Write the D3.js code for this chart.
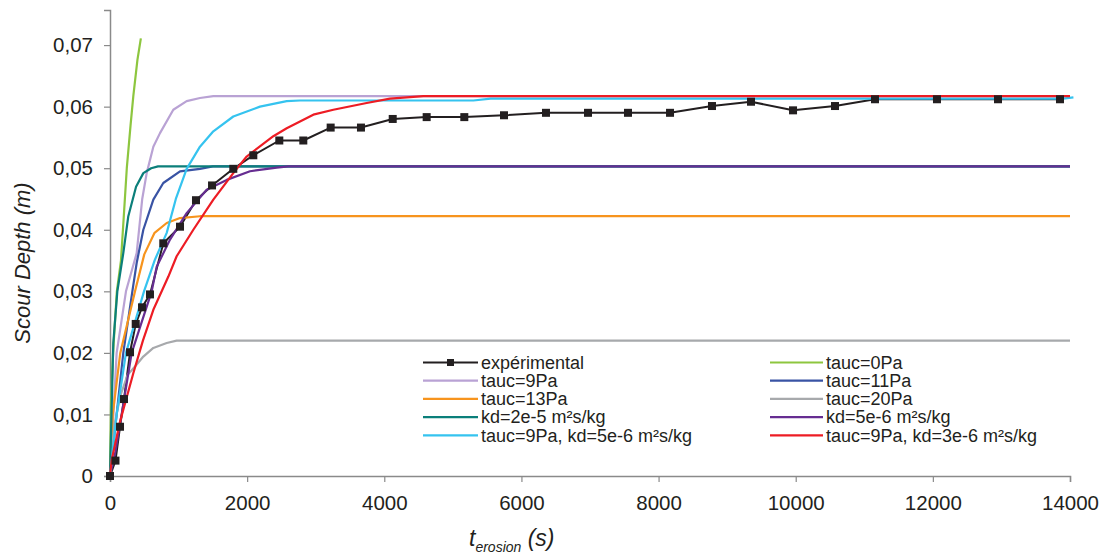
<!DOCTYPE html>
<html>
<head>
<meta charset="utf-8">
<script src="https://cdn.jsdelivr.net/npm/d3@7"></script>
<style>
  body { margin: 0; background: #fff; }
  svg { display: block; font-family: "Liberation Sans", Arial, sans-serif; }
</style>
</head>
<body>
<svg id="chart"></svg>
<script>
const experimental = [[0,0],[80,0.0025],[146,0.008],[204,0.0125],[292,0.0201],[375,0.0247],[467,0.0274],[583,0.0295],
  [777,0.0378],[1021,0.0405],[1254,0.0448],[1488,0.0472],[1798,0.0499],[2090,0.0521],[2469,0.0545],[2819,0.0545],
  [3218,0.0566],[3660,0.0566],[4123,0.058],[4618,0.0583],[5167,0.0583],[5746,0.0586],[6358,0.059],[6971,0.059],
  [7554,0.059],[8167,0.059],[8779,0.0601],[9348,0.0608],[9961,0.0594],[10573,0.0601],[11156,0.0612],[12060,0.0612],
  [12950,0.0612],[13854,0.0612]];
const tauc0 = [[0,0],[15,0.012],[45,0.02],[100,0.03],[160,0.035],[200,0.042],[245,0.05],[300,0.057],[340,0.0617],[400,0.0676],[450,0.0711]];
const tauc9 = [[0,0],[50,0.01],[97,0.02],[233,0.03],[389,0.0362],[470,0.045],[535,0.0492],[632,0.0535],[729,0.0557],
  [923,0.0595],[1118,0.0609],[1312,0.0614],[1507,0.0617],[14000,0.0617]];
const tauc11 = [[0,0],[97,0.01],[194,0.02],[326,0.03],[389,0.0346],[486,0.04],[632,0.0449],[777,0.0476],[1021,0.0495],
  [1312,0.0499],[1500,0.0503],[14000,0.0503]];
const tauc13 = [[0,0],[40,0.01],[150,0.02],[365,0.03],[500,0.036],[650,0.0395],[827,0.0411],[1021,0.0419],[1312,0.0422],[14000,0.0422]];
const tauc20 = [[0,0],[60,0.008],[150,0.013],[260,0.0165],[365,0.0178],[486,0.0194],[632,0.0208],[827,0.0216],[972,0.022],[14000,0.022]];
const kd2e5 = [[0,0],[15,0.007],[48,0.0216],[107,0.03],[194,0.0362],[267,0.0422],[380,0.047],[486,0.0492],[600,0.05],[700,0.0503],[14000,0.0503]];
const kd5e6 = [[0,0],[80,0.004],[170,0.01],[316,0.02],[608,0.03],[681,0.034],[875,0.0384],[1118,0.0427],[1410,0.0465],
  [1702,0.0481],[2042,0.0495],[2431,0.0501],[2600,0.0503],[14000,0.0503]];
const tauc9kd5e6 = [[0,0],[97,0.01],[233,0.02],[496,0.03],[650,0.035],[827,0.0395],[960,0.045],[1118,0.0499],[1312,0.0535],
  [1507,0.056],[1798,0.0584],[2187,0.06],[2577,0.0609],[2771,0.061],[5300,0.061],[5550,0.0613],[13900,0.0613],[14050,0.0615]];
const tauc9kd3e6 = [[0,0],[24,0.0026],[150,0.009],[340,0.0167],[480,0.022],[632,0.027],[851,0.0324],[972,0.0357],[1215,0.04],
  [1507,0.0449],[1798,0.0492],[1993,0.0519],[2382,0.0552],[2577,0.0565],[2771,0.0576],[2965,0.0587],[3257,0.0595],
  [3743,0.0606],[4083,0.0613],[4569,0.0617],[14000,0.0617]];

const seriesNames = ["expérimental","tauc=0Pa","tauc=9Pa","tauc=11Pa","tauc=13Pa","tauc=20Pa",
  "kd=2e-5 m²s/kg","kd=5e-6 m²s/kg","tauc=9Pa, kd=5e-6 m²s/kg","tauc=9Pa, kd=3e-6 m²s/kg"];
const seriesData = [experimental,tauc0,tauc9,tauc11,tauc13,tauc20,kd2e5,kd5e6,tauc9kd5e6,tauc9kd3e6];
const colors = ["#231f20","#8dc63f","#b9a2d4","#3953a4","#f7941d","#a7a9ac","#0b7f7a","#662d91","#35c3ef","#ed1c24"];

const xTicks = [0,2000,4000,6000,8000,10000,12000,14000];
const yTicks = [0,0.01,0.02,0.03,0.04,0.05,0.06,0.07];

let svg = d3.select("#chart").attr("width", 1105).attr("height", 557);

let x = d3.scaleLinear().domain([0, 14000]).range([110, 1070]);
let y = d3.scaleLinear().domain([0, 0.0757]).range([476, 10]);

// axes
let xAxis = svg.append("g").attr("transform", "translate(0,476)")
  .call(d3.axisBottom(x).tickValues(xTicks).tickSize(6).tickPadding(12).tickFormat(d3.format("d")));
let yAxis = svg.append("g").attr("transform", "translate(110,0)")
  .call(d3.axisLeft(y).tickValues(yTicks).tickSize(6).tickPadding(11)
    .tickFormat(d => d == 0 ? "0" : d3.format(".2f")(d).replace(".", ",")));
[xAxis, yAxis].forEach(a => {
  a.select(".domain").attr("stroke", "#8a8a8a").attr("stroke-width", 1.5);
  a.selectAll(".tick line").attr("stroke", "#8a8a8a").attr("stroke-width", 1.2);
  a.selectAll("text").attr("fill", "#231f20").style("font-size", "20.5px").style("font-family", "Liberation Sans, Arial");
});
xAxis.selectAll(".tick text").attr("dy", "0.8em");

// series lines (first series at the bottom, like excel)
let line = d3.line().x(d => x(d[0])).y(d => y(d[1]));
seriesData.forEach((s, i) => {
  svg.append("path").attr("d", line(s)).attr("fill", "none")
    .attr("stroke", colors[i]).attr("stroke-width", i == 0 ? 2 : 2.2).attr("stroke-linejoin", "round");
});

// experimental markers
svg.append("g").selectAll("rect").data(experimental).enter().append("rect")
  .attr("x", d => x(d[0]) - 4).attr("y", d => y(d[1]) - 4)
  .attr("width", 8).attr("height", 8).attr("fill", "#231f20");

// legend
let legend = svg.append("g").style("font-size", "18px").attr("fill", "#231f20");
seriesNames.forEach((name, i) => {
  let col = i % 2, row = Math.floor(i / 2);
  let lx0 = col == 0 ? 423 : 770, lx1 = col == 0 ? 478 : 823;
  let ly = 362.5 + row * 18.2;
  legend.append("line").attr("x1", lx0).attr("x2", lx1).attr("y1", ly).attr("y2", ly)
    .attr("stroke", colors[i]).attr("stroke-width", 2.2);
  if (i == 0) {
    legend.append("rect").attr("x", (lx0 + lx1) / 2 - 3.5).attr("y", ly - 3.5).attr("width", 7).attr("height", 7).attr("fill", colors[0]);
  }
  legend.append("text").attr("x", lx1 + 3).attr("y", ly).attr("dy", "0.35em").text(name);
});

// axis titles
svg.append("text").attr("transform", "translate(30,263) rotate(-90)")
  .attr("text-anchor", "middle").style("font-size", "22px").style("font-style", "italic")
  .attr("fill", "#231f20").text("Scour Depth (m)");

let xt = svg.append("text").attr("x", 469).attr("y", 546)
  .style("font-size", "23px").style("font-style", "italic").attr("fill", "#231f20");
xt.append("tspan").text("t");
xt.append("tspan").attr("dy", 6).style("font-size", "14px").text("erosion");
xt.append("tspan").attr("dy", -6).text(" (s)");
</script>
</body>
</html>
